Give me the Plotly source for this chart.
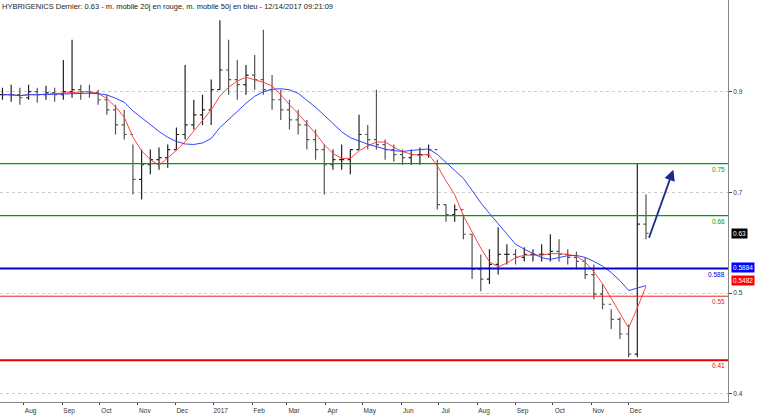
import plotly.graph_objects as go
import pandas as pd

dates = pd.date_range("2016-07-15", periods=75, freq="7D")
high = [0.908,0.914,0.908,0.914,0.908,0.912,0.908,0.963,1.003,0.914,0.914,0.904,0.894,0.874,0.864,0.795,0.785,0.785,0.789,0.795,0.829,0.953,0.884,0.894,0.924,1.042,1.003,0.963,0.953,0.973,1.023,0.933,0.904,0.884,0.864,0.844,0.825,0.795,0.785,0.795,0.785,0.854,0.834,0.904,0.805,0.795,0.785,0.785,0.789,0.795,0.765,0.676,0.676,0.656,0.617,0.577,0.587,0.631,0.597,0.587,0.591,0.587,0.597,0.617,0.607,0.587,0.583,0.571,0.557,0.518,0.468,0.452,0.438,0.757,0.696]
low = [0.884,0.880,0.874,0.884,0.878,0.884,0.880,0.884,0.888,0.884,0.888,0.874,0.854,0.815,0.805,0.696,0.686,0.736,0.745,0.749,0.785,0.805,0.825,0.834,0.834,0.904,0.894,0.884,0.894,0.904,0.894,0.864,0.844,0.825,0.815,0.785,0.765,0.696,0.745,0.745,0.736,0.785,0.785,0.785,0.765,0.761,0.755,0.755,0.755,0.769,0.666,0.642,0.642,0.607,0.528,0.504,0.518,0.537,0.557,0.557,0.563,0.563,0.563,0.563,0.563,0.557,0.547,0.528,0.488,0.468,0.429,0.409,0.373,0.373,0.607]
close = [0.894,0.894,0.888,0.900,0.894,0.898,0.894,0.900,0.904,0.900,0.898,0.884,0.864,0.834,0.815,0.726,0.755,0.765,0.769,0.785,0.815,0.834,0.854,0.864,0.904,0.943,0.924,0.914,0.933,0.924,0.904,0.884,0.864,0.844,0.834,0.805,0.785,0.755,0.765,0.765,0.785,0.815,0.805,0.795,0.785,0.775,0.769,0.775,0.775,0.785,0.676,0.656,0.666,0.617,0.547,0.528,0.557,0.577,0.577,0.571,0.577,0.577,0.577,0.583,0.577,0.571,0.563,0.537,0.498,0.478,0.448,0.419,0.379,0.637,0.619]
open_ = [close[0]] + close[:-1]

level_vals = [0.757, 0.654, 0.549, 0.494, 0.367]
level_text = ["0.75", "0.66", "0.588", "0.55", "0.41"]
level_colors = ["#00a000", "#00a000", "#0000cc", "#ee2222", "#ee0000"]
level_widths = [1.2, 1.2, 2, 1, 2]

badge_vals = [0.619, 0.551, 0.526]
badge_text = ["0.63", "0.5884", "0.5482"]
badge_colors = ["black", "#0000ff", "#ff0000"]

month_ticks = pd.date_range("2016-08-01", "2017-12-01", freq="MS")
month_text = [("2017" if d.month == 1 else d.strftime("%b")) for d in month_ticks]
ytick_vals = [0.9, 0.7, 0.5, 0.3]
ytick_text = ["0.9", "0.7", "0.5", "0.4"]

s = pd.Series(close)
ma20 = s.rolling(4, min_periods=1).mean()
ma50 = s.rolling(10, min_periods=1).mean()

fig = go.Figure()
fig.add_trace(go.Ohlc(x=dates, open=open_, high=high, low=low, close=close,
                      increasing_line_color="#222", decreasing_line_color="#555",
                      line_width=1.2, tickwidth=0.3, showlegend=False))
fig.add_trace(go.Scatter(x=dates, y=ma20, mode="lines", line=dict(color="#ff4444", width=1), showlegend=False))
fig.add_trace(go.Scatter(x=dates, y=ma50, mode="lines", line=dict(color="#3344ff", width=1), showlegend=False))

for v, t, c, w in zip(level_vals, level_text, level_colors, level_widths):
    fig.add_hline(y=v, line_color=c, line_width=w)
    fig.add_annotation(x=0.998, xref="paper", y=v, yref="y", text=t, showarrow=False,
                       xanchor="right", yanchor="top", font=dict(size=6.5, color=c))

for v, t, c in zip(badge_vals, badge_text, badge_colors):
    fig.add_annotation(x=1, xref="paper", y=v, yref="y", text=t, showarrow=False,
                       xanchor="left", xshift=3, bgcolor=c, font=dict(size=6.5, color="white"),
                       borderpad=1)

fig.add_annotation(x=pd.Timestamp("2018-01-06"), y=0.745, ax=pd.Timestamp("2017-12-17"), ay=0.607,
                   xref="x", yref="y", axref="x", ayref="y", showarrow=True,
                   arrowhead=2, arrowsize=1.2, arrowwidth=1.8, arrowcolor="#1a2a8a", text="")

fig.add_annotation(x=0, xref="paper", y=1, yref="paper", xanchor="left", yanchor="top",
                   text="HYBRIGENICS Dernier: 0.63 - m. mobile 20j en rouge, m. mobile 50j en bleu - 12/14/2017 09:21:09",
                   showarrow=False, font=dict(size=7.5, color="#222", family="Liberation Sans"))

fig.update_layout(width=760, height=415, margin=dict(l=0, r=32, t=0, b=13),
                  plot_bgcolor="white", paper_bgcolor="white",
                  font=dict(family="Liberation Sans", size=7, color="#333"))
fig.update_xaxes(range=[pd.Timestamp("2016-07-13"), pd.Timestamp("2018-02-19")],
                 tickvals=month_ticks, ticktext=month_text, ticks="outside", ticklen=2,
                 ticklabelshift=7,
                 showgrid=False, rangeslider_visible=False, showline=True, linecolor="#888",
                 tickfont=dict(size=6.5))
fig.update_yaxes(range=[0.284, 1.082], side="right", tickvals=ytick_vals, ticktext=ytick_text,
                 showgrid=True, gridcolor="#ccc", griddash="dot", showline=True, linecolor="#888",
                 ticks="outside", ticklen=3, tickfont=dict(size=6.5), zeroline=False)
fig.write_html("out.html", config={"displayModeBar": False},
               post_script="document.body.style.margin='0';document.body.style.overflow='hidden';")
